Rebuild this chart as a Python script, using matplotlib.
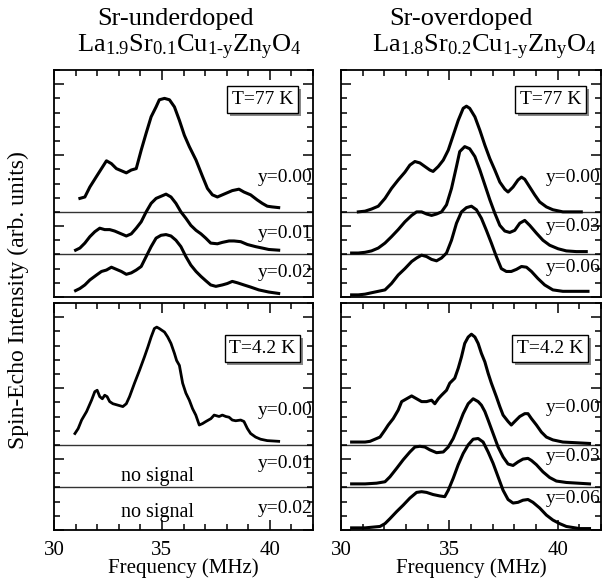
import matplotlib
matplotlib.use("Agg")
import matplotlib.pyplot as plt
import matplotlib.patheffects as pe
from matplotlib.ticker import MultipleLocator

plt.rcParams['font.family'] = ['Liberation Serif', 'DejaVu Serif']
plt.rcParams['mathtext.fontset'] = 'custom'
plt.rcParams['mathtext.rm'] = 'Liberation Serif'
plt.rcParams['mathtext.it'] = 'Liberation Serif:italic'

# ---- Sr-underdoped, T=77 K ----
f_u77_000 = [31.20, 31.43, 31.66, 31.97, 32.20, 32.43, 32.66, 32.89, 33.35, 33.58, 33.81, 34.04, 34.27,
             34.50, 34.73, 34.88, 35.12, 35.35, 35.58, 35.81, 36.04, 36.27, 36.58, 36.88, 37.11, 37.34,
             37.57, 37.80, 38.03, 38.26, 38.57, 38.80, 39.11, 39.41, 39.65, 39.88, 40.11, 40.41]
s_u77_000 = [0.19, 0.21, 0.35, 0.50, 0.61, 0.72, 0.68, 0.61, 0.55, 0.59, 0.61, 0.87, 1.11,
             1.34, 1.48, 1.58, 1.60, 1.58, 1.48, 1.29, 1.08, 0.92, 0.73, 0.50, 0.33, 0.24,
             0.21, 0.24, 0.27, 0.30, 0.32, 0.28, 0.24, 0.17, 0.12, 0.08, 0.07, 0.06]
f_u77_001 = [31.00, 31.20, 31.43, 31.66, 31.89, 32.12, 32.35, 32.58, 32.81, 33.04, 33.35, 33.58, 33.81,
             34.04, 34.27, 34.50, 34.73, 34.96, 35.19, 35.42, 35.65, 35.88, 36.11, 36.34, 36.58, 36.81,
             37.03, 37.26, 37.57, 37.80, 38.11, 38.34, 38.65, 38.96, 39.34, 39.65, 39.95, 40.41]
s_u77_001 = [0.06, 0.09, 0.16, 0.25, 0.32, 0.37, 0.35, 0.35, 0.33, 0.30, 0.26, 0.29, 0.37,
             0.46, 0.60, 0.72, 0.79, 0.82, 0.85, 0.81, 0.72, 0.60, 0.51, 0.41, 0.34, 0.29,
             0.23, 0.16, 0.15, 0.17, 0.19, 0.19, 0.18, 0.14, 0.11, 0.09, 0.07, 0.06]
f_u77_002 = [31.00, 31.20, 31.43, 31.66, 31.97, 32.20, 32.43, 32.66, 32.89, 33.12, 33.35, 33.58, 33.81,
             34.04, 34.27, 34.50, 34.73, 34.96, 35.19, 35.42, 35.65, 35.88, 36.11, 36.34, 36.58, 36.81,
             37.03, 37.26, 37.50, 37.80, 38.03, 38.26, 38.50, 38.80, 39.11, 39.49, 39.95, 40.41]
s_u77_002 = [0.09, 0.12, 0.17, 0.24, 0.31, 0.36, 0.38, 0.42, 0.39, 0.36, 0.32, 0.34, 0.38,
             0.43, 0.57, 0.71, 0.83, 0.87, 0.88, 0.86, 0.80, 0.71, 0.57, 0.45, 0.36, 0.29,
             0.23, 0.17, 0.15, 0.17, 0.19, 0.22, 0.20, 0.17, 0.14, 0.10, 0.07, 0.05]

# ---- Sr-overdoped, T=77 K ----
f_o77_000 = [30.80, 31.11, 31.41, 31.72, 32.03, 32.33, 32.64, 32.95, 33.18, 33.41, 33.64, 33.87, 34.10,
             34.25, 34.49, 34.72, 34.95, 35.18, 35.41, 35.64, 35.79, 35.94, 36.18, 36.41, 36.64, 36.87,
             37.10, 37.33, 37.56, 37.71, 37.94, 38.17, 38.33, 38.48, 38.71, 38.94, 39.17, 39.48, 39.78,
             40.24, 41.09]
s_o77_000 = [0.00, 0.01, 0.04, 0.08, 0.19, 0.33, 0.45, 0.56, 0.66, 0.71, 0.69, 0.64, 0.59,
             0.57, 0.64, 0.73, 0.87, 1.08, 1.29, 1.46, 1.49, 1.46, 1.34, 1.15, 0.94, 0.75,
             0.59, 0.42, 0.32, 0.28, 0.35, 0.45, 0.49, 0.46, 0.35, 0.24, 0.14, 0.07, 0.03,
             0.00, 0.00]
f_o77_003 = [30.49, 30.80, 31.11, 31.41, 31.72, 32.03, 32.33, 32.64, 32.95, 33.26, 33.49, 33.72, 33.95,
             34.18, 34.41, 34.64, 34.87, 35.10, 35.33, 35.48, 35.71, 35.94, 36.18, 36.41, 36.64, 36.87,
             37.10, 37.33, 37.56, 37.79, 38.02, 38.25, 38.48, 38.71, 39.02, 39.32, 39.63, 40.02, 40.40,
             40.86, 41.32]
s_o77_003 = [0.02, 0.02, 0.03, 0.05, 0.09, 0.16, 0.25, 0.35, 0.46, 0.55, 0.60, 0.60, 0.57,
             0.55, 0.57, 0.60, 0.70, 0.93, 1.24, 1.45, 1.52, 1.49, 1.38, 1.19, 0.98, 0.77,
             0.58, 0.41, 0.33, 0.31, 0.34, 0.44, 0.48, 0.41, 0.30, 0.20, 0.13, 0.08, 0.05,
             0.04, 0.04]
f_o77_006 = [30.49, 30.80, 31.11, 31.41, 31.72, 32.03, 32.33, 32.64, 32.95, 33.26, 33.49, 33.72, 33.95,
             34.18, 34.41, 34.64, 34.87, 35.10, 35.33, 35.56, 35.79, 36.02, 36.25, 36.48, 36.71, 36.94,
             37.17, 37.40, 37.63, 37.86, 38.10, 38.33, 38.56, 38.79, 39.09, 39.40, 39.78, 40.24, 40.86,
             41.40]
s_o77_006 = [0.03, 0.03, 0.04, 0.06, 0.08, 0.10, 0.19, 0.31, 0.40, 0.50, 0.55, 0.59, 0.57,
             0.53, 0.51, 0.55, 0.62, 0.80, 1.04, 1.20, 1.26, 1.28, 1.23, 1.11, 0.94, 0.76,
             0.57, 0.40, 0.36, 0.36, 0.39, 0.43, 0.42, 0.36, 0.26, 0.17, 0.10, 0.08, 0.08,
             0.08]

# ---- Sr-underdoped, T=4.2 K ----
f_u42_000 = [30.97, 31.12, 31.28, 31.51, 31.74, 31.89, 32.00, 32.12, 32.24, 32.35, 32.46, 32.58, 32.73,
             32.96, 33.19, 33.35, 33.50, 33.73, 33.96, 34.19, 34.35, 34.50, 34.65, 34.76, 34.88, 35.12,
             35.27, 35.42, 35.58, 35.68, 35.81, 35.96, 36.11, 36.27, 36.42, 36.57, 36.73, 36.88, 37.04,
             37.27, 37.42, 37.65, 37.80, 37.96, 38.11, 38.26, 38.42, 38.65, 38.80, 38.96, 39.11, 39.34,
             39.57, 39.88, 40.41]
s_u42_000 = [0.16, 0.23, 0.35, 0.47, 0.63, 0.75, 0.77, 0.68, 0.65, 0.70, 0.68, 0.61, 0.58,
             0.56, 0.54, 0.58, 0.68, 0.87, 1.05, 1.24, 1.38, 1.52, 1.64, 1.66, 1.64, 1.59,
             1.52, 1.43, 1.29, 1.19, 1.12, 0.87, 0.73, 0.63, 0.51, 0.42, 0.28, 0.30, 0.33,
             0.37, 0.42, 0.40, 0.42, 0.40, 0.39, 0.35, 0.34, 0.35, 0.33, 0.23, 0.16, 0.11,
             0.08, 0.06, 0.05]

# ---- Sr-overdoped, T=4.2 K ----
f_o42_000 = [30.49, 30.80, 31.11, 31.34, 31.57, 31.80, 32.03, 32.18, 32.41, 32.64, 32.80, 33.03, 33.26,
             33.49, 33.72, 33.95, 34.18, 34.33, 34.49, 34.64, 34.87, 35.02, 35.25, 35.41, 35.56, 35.71,
             35.87, 36.02, 36.18, 36.33, 36.48, 36.64, 36.79, 36.94, 37.17, 37.33, 37.48, 37.71, 37.86,
             38.02, 38.25, 38.48, 38.63, 38.79, 39.02, 39.25, 39.48, 39.78, 40.24, 40.86, 41.47]
s_o42_000 = [0.04, 0.04, 0.04, 0.05, 0.08, 0.11, 0.21, 0.28, 0.37, 0.49, 0.61, 0.65, 0.69,
             0.65, 0.61, 0.61, 0.63, 0.58, 0.65, 0.70, 0.77, 0.87, 0.94, 1.08, 1.24, 1.43,
             1.52, 1.56, 1.52, 1.43, 1.29, 1.17, 1.01, 0.87, 0.68, 0.54, 0.42, 0.33, 0.28,
             0.33, 0.40, 0.44, 0.44, 0.37, 0.28, 0.18, 0.11, 0.07, 0.04, 0.03, 0.02]
f_o42_003 = [30.49, 31.11, 31.64, 32.03, 32.26, 32.57, 32.87, 33.18, 33.41, 33.64, 33.87, 34.10, 34.41,
             34.72, 34.95, 35.18, 35.41, 35.64, 35.87, 36.10, 36.33, 36.48, 36.64, 36.79, 37.02, 37.25,
             37.48, 37.71, 37.94, 38.17, 38.40, 38.63, 38.79, 39.02, 39.32, 39.63, 39.94, 40.40, 41.47]
s_o42_003 = [0.05, 0.05, 0.06, 0.08, 0.15, 0.27, 0.39, 0.50, 0.57, 0.58, 0.57, 0.53, 0.49,
             0.50, 0.57, 0.69, 0.86, 1.04, 1.18, 1.25, 1.21, 1.16, 1.07, 0.95, 0.76, 0.57,
             0.43, 0.33, 0.31, 0.36, 0.40, 0.41, 0.38, 0.32, 0.22, 0.14, 0.09, 0.07, 0.05]
f_o42_006 = [30.49, 31.11, 31.80, 32.03, 32.26, 32.57, 32.87, 33.18, 33.49, 33.72, 33.95, 34.25, 34.56,
             34.79, 34.95, 35.18, 35.41, 35.64, 35.87, 36.10, 36.33, 36.56, 36.79, 37.02, 37.25, 37.48,
             37.71, 37.94, 38.17, 38.40, 38.63, 38.86, 39.17, 39.48, 39.78, 40.09, 40.40, 41.01, 41.47]
s_o42_006 = [0.03, 0.03, 0.05, 0.09, 0.16, 0.26, 0.35, 0.45, 0.53, 0.54, 0.53, 0.50, 0.48,
             0.47, 0.56, 0.73, 0.92, 1.08, 1.20, 1.28, 1.29, 1.24, 1.10, 0.94, 0.75, 0.56,
             0.43, 0.38, 0.39, 0.42, 0.43, 0.39, 0.31, 0.21, 0.14, 0.09, 0.05, 0.02, 0.02]

offsets = [1.2, 0.6, 0.0]
labels_u = ['y=0.00', 'y=0.01', 'y=0.02']
labels_o = ['y=0.00', 'y=0.03', 'y=0.06']
label_y_u77 = [1.68, 0.90, 0.34]
label_y_o77 = [1.68, 0.99, 0.41]
label_y_u42 = [1.69, 0.94, 0.31]
label_y_o42 = [1.72, 1.03, 0.45]

fig = plt.figure(figsize=(6.12, 5.79), dpi=100)
W, H = 612, 579


def add_ax(x0, y0, x1, y1):
    return fig.add_axes([x0 / W, 1 - y1 / H, (x1 - x0) / W, (y1 - y0) / H])


ax_u77 = add_ax(54, 70, 313, 297)
ax_o77 = add_ax(341, 70, 601, 297)
ax_u42 = add_ax(54, 303, 313, 530)
ax_o42 = add_ax(341, 303, 601, 530)


def setup(ax, bottom):
    ax.set_xlim(30, 42)
    ax.set_ylim(0, 3.2)
    ax.xaxis.set_major_locator(MultipleLocator(5))
    ax.xaxis.set_minor_locator(MultipleLocator(1))
    ax.yaxis.set_major_locator(MultipleLocator(1))
    ax.yaxis.set_minor_locator(MultipleLocator(0.2))
    ax.tick_params(which='both', direction='in', top=True, right=True, bottom=bottom,
                   labelbottom=bottom, labelleft=False, width=1.1)
    ax.tick_params(which='major', length=7, labelsize=15, pad=8)
    ax.tick_params(which='minor', length=4)
    for s in ax.spines.values():
        s.set_linewidth(1.3)
    for y in offsets[:2]:
        ax.axhline(y, color='#333333', lw=1.0, zorder=1)


def temp_box(ax, txt, y):
    t = ax.text(0.805, y, txt, transform=ax.transAxes, ha='center', va='center', fontsize=14,
                bbox=dict(boxstyle='square,pad=0.25', fc='white', ec='black', lw=1.0))
    t.get_bbox_patch().set_path_effects([pe.withSimplePatchShadow(offset=(2, -2), shadow_rgbFace='#888888', alpha=1.0)])


def labels(ax, texts, ys):
    for t, y in zip(texts, ys):
        ax.text(41.98, y, t, ha='right', va='center', fontsize=14)


setup(ax_u77, False)
for f, s, off in zip([f_u77_000, f_u77_001, f_u77_002], [s_u77_000, s_u77_001, s_u77_002], offsets):
    ax_u77.plot(f, [v + off for v in s], color='black', lw=2.2)
labels(ax_u77, labels_u, label_y_u77)
temp_box(ax_u77, 'T=77 K', 0.87)

setup(ax_o77, False)
for f, s, off in zip([f_o77_000, f_o77_003, f_o77_006], [s_o77_000, s_o77_003, s_o77_006], offsets):
    ax_o77.plot(f, [v + off for v in s], color='black', lw=2.2)
labels(ax_o77, labels_o, label_y_o77)
temp_box(ax_o77, 'T=77 K', 0.87)

setup(ax_u42, True)
ax_u42.plot(f_u42_000, [v + offsets[0] for v in s_u42_000], color='black', lw=2.0)
ax_u42.text(34.8, 0.75, 'no signal', ha='center', va='center', fontsize=14.5)
ax_u42.text(34.8, 0.24, 'no signal', ha='center', va='center', fontsize=14.5)
labels(ax_u42, labels_u, label_y_u42)
temp_box(ax_u42, 'T=4.2 K', 0.80)

setup(ax_o42, True)
for f, s, off in zip([f_o42_000, f_o42_003, f_o42_006], [s_o42_000, s_o42_003, s_o42_006], offsets):
    ax_o42.plot(f, [v + off for v in s], color='black', lw=2.2)
labels(ax_o42, labels_o, label_y_o42)
temp_box(ax_o42, 'T=4.2 K', 0.80)

ax_u42.set_xlabel('Frequency (MHz)', fontsize=15, labelpad=-1)
ax_o42.set_xlabel('Frequency (MHz)', fontsize=15, labelpad=-1)

fig.text(18 / W, 1 - 300 / H, 'Spin-Echo Intensity (arb. units)', rotation=90,
         ha='center', va='center', fontsize=17)

fig.text(176 / W, 1 - 19 / H, 'Sr-underdoped', ha='center', va='center', fontsize=19)
fig.text(189 / W, 1 - 47 / H, r'La$_{\mathrm{1.9}}$Sr$_{\mathrm{0.1}}$Cu$_{\text{1-y}}$Zn$_{\mathrm{y}}$O$_{\mathrm{4}}$',
         ha='center', va='center', fontsize=19)
fig.text(461 / W, 1 - 19 / H, 'Sr-overdoped', ha='center', va='center', fontsize=19)
fig.text(484 / W, 1 - 47 / H, r'La$_{\mathrm{1.8}}$Sr$_{\mathrm{0.2}}$Cu$_{\text{1-y}}$Zn$_{\mathrm{y}}$O$_{\mathrm{4}}$',
         ha='center', va='center', fontsize=19)

fig.savefig('out.png', dpi=100)
